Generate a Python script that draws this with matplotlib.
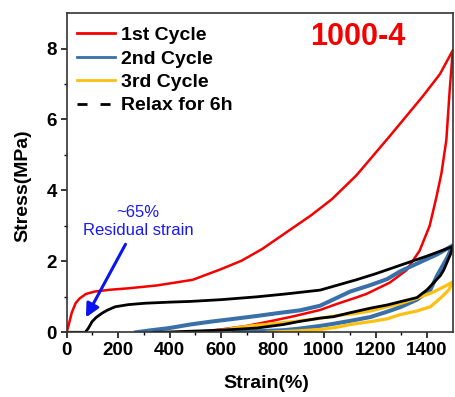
import matplotlib.pyplot as plt
from matplotlib.lines import Line2D

plt.rcParams['font.family'] = ['Liberation Sans', 'DejaVu Sans']

# 1st cycle (loading then unloading)
C1_X = [0, 8, 20, 35, 50, 75, 110, 170, 240, 350, 490, 600, 680, 760, 870, 950, 1030, 1125,
        1255, 1384, 1450, 1500,
        1488, 1475, 1456, 1436, 1410, 1371, 1320, 1255, 1164, 1125, 1050, 985, 881, 803, 700, 600, 520]
C1_Y = [0, 0.2, 0.55, 0.82, 0.95, 1.08, 1.15, 1.2, 1.24, 1.32, 1.48, 1.78, 2.02, 2.35, 2.9, 3.3, 3.75, 4.42,
        5.53, 6.66, 7.28, 7.95,
        6.84, 5.43, 4.49, 3.8, 3.0, 2.3, 1.75, 1.4, 1.08, 0.98, 0.8, 0.63, 0.45, 0.33, 0.18, 0.08, 0.02]

# 2nd cycle
C2_X = [270, 320, 400, 480, 560, 640, 739, 820, 907, 985, 1102, 1180, 1245, 1296, 1380, 1440, 1500,
        1478, 1439, 1413, 1361, 1300, 1245, 1180, 1100, 1037, 985, 900, 843, 739, 650]
C2_Y = [0, 0.05, 0.12, 0.22, 0.3, 0.37, 0.46, 0.54, 0.62, 0.75, 1.15, 1.33, 1.5, 1.72, 2.0, 2.2, 2.45,
        2.1, 1.6, 1.2, 0.92, 0.72, 0.58, 0.43, 0.32, 0.24, 0.18, 0.1, 0.06, 0.03, 0]

# 3rd cycle
C3_X = [500, 600, 713, 800, 880, 972, 1050, 1120, 1180, 1245, 1300, 1361, 1420, 1470, 1500,
        1484, 1450, 1413, 1361, 1296, 1245, 1180, 1102, 1040, 985, 900, 842, 780]
C3_Y = [0, 0.06, 0.18, 0.24, 0.3, 0.38, 0.47, 0.53, 0.6, 0.72, 0.82, 0.96, 1.12, 1.3, 1.42,
        1.19, 0.95, 0.72, 0.6, 0.5, 0.38, 0.3, 0.22, 0.13, 0.08, 0.04, 0.02, 0]

# relaxed for 6h
R_X = [0, 73, 85, 99, 115, 138, 160, 189, 240, 306, 400, 480, 600, 739, 850, 985, 1125, 1200, 1320, 1400, 1500,
       1491, 1465, 1452, 1400, 1361, 1300, 1245, 1180, 1100, 1037, 985, 900, 843, 739, 650, 560, 480, 400, 340]
R_Y = [0, 0, 0.12, 0.3, 0.42, 0.54, 0.63, 0.72, 0.78, 0.82, 0.85, 0.87, 0.92, 1.0, 1.08, 1.19, 1.48, 1.65, 1.95, 2.15, 2.42,
       2.2, 1.76, 1.6, 1.2, 0.98, 0.87, 0.77, 0.68, 0.55, 0.44, 0.4, 0.3, 0.22, 0.12, 0.08, 0.05, 0.03, 0.01, 0]

RED = '#f50000'
BLUE = '#3a70a8'
YELLOW = '#fdc010'

fig = plt.figure(figsize=(4.56, 3.97), dpi=100)
ax = fig.add_axes([0.146, 0.163, 0.847, 0.804])

ax.plot(C1_X, C1_Y, color=RED, lw=1.8)
ax.plot(C2_X, C2_Y, color=BLUE, lw=2.9)
ax.plot(C3_X, C3_Y, color=YELLOW, lw=2.3)
ax.plot(R_X, R_Y, color='black', lw=2.0)

ax.set_xlim(0, 1500)
ax.set_ylim(0, 9)
ax.set_xticks([0, 200, 400, 600, 800, 1000, 1200, 1400])
ax.set_xticks(range(100, 1500, 200), minor=True)
ax.set_yticks([0, 2, 4, 6, 8])
ax.set_yticks([1, 3, 5, 7], minor=True)
ax.tick_params(which='major', direction='out', length=4, width=1.1, labelsize=13.5, pad=3)
ax.tick_params(which='minor', direction='out', length=2.5, width=1.0)
for lab in ax.get_xticklabels() + ax.get_yticklabels():
    lab.set_fontweight('bold')
for sp in ax.spines.values():
    sp.set_linewidth(1.2)
    sp.set_color('#333333')

ax.set_xlabel('Strain(%)', fontsize=14, fontweight='bold')
ax.xaxis.set_label_coords(0.516, -0.135)
ax.set_ylabel('Stress(MPa)', fontsize=14, fontweight='bold')
ax.yaxis.set_label_coords(-0.09, 0.46)

ax.text(1130, 8.34, '1000-4', color=RED, fontsize=22, fontweight='bold', ha='center', va='center')

ax.annotate('', xy=(70, 0.35), xytext=(234, 2.55),
            arrowprops=dict(arrowstyle='-|>', color='#0a14f0', lw=2.2, mutation_scale=20))
ax.text(278, 3.12, '~65%\nResidual strain', color='#1a1af0', fontsize=12,
        ha='center', va='center', multialignment='center')

handles = [Line2D([], [], color=RED, lw=2),
           Line2D([], [], color=BLUE, lw=2),
           Line2D([], [], color=YELLOW, lw=2),
           Line2D([], [], color='black', lw=2, dashes=(3.6, 4.7))]
labels = ['1st Cycle', '2nd Cycle', '3rd Cycle', 'Relax for 6h']
ax.legend(handles, labels, loc='upper left', bbox_to_anchor=(0.027, 0.958), frameon=False,
          borderpad=0, borderaxespad=0, handlelength=1.95, handletextpad=0.3, labelspacing=0.3,
          prop={'size': 14, 'weight': 'bold'})

fig.savefig('out.png', dpi=100)
